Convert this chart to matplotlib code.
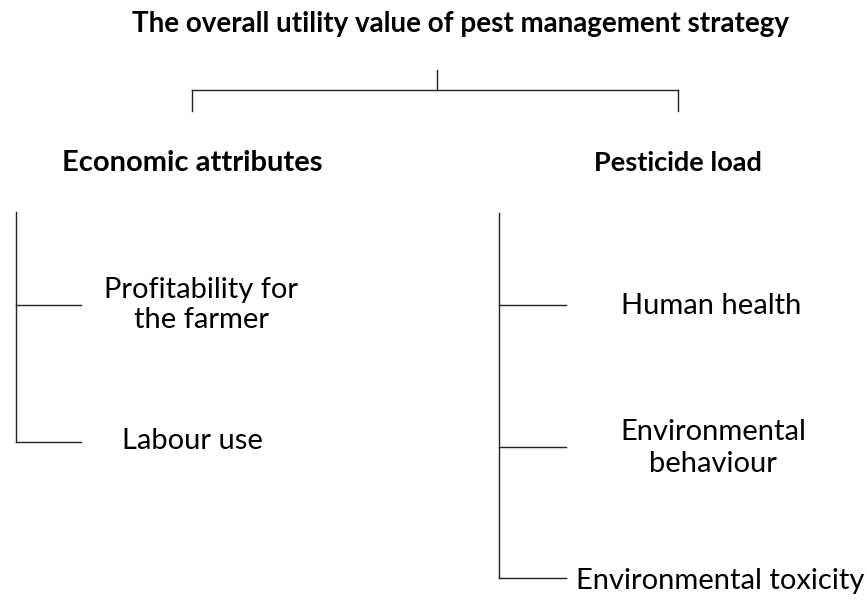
import matplotlib.pyplot as plt

plt.rcParams['font.family'] = ['Lato', 'DejaVu Sans']

# labels of the tree
title = 'The overall utility value of pest management strategy'
groups = ['Economic attributes', 'Pesticide load']
econ_items = ['Profitability for\nthe farmer', 'Labour use']
pest_items = ['Human health', 'Environmental\nbehaviour', 'Environmental toxicity']

# layout in pixel coordinates (y down)
group_x = [192, 678]
econ_y = [305, 442]
pest_y = [305, 447, 578]
econ_text_x = [201, 192]
econ_text_y = [305, 441]
pest_text_x = [711, 713, 720]
pest_text_y = [306, 448, 581]

fig = plt.figure(figsize=(8.67, 6.04), dpi=100)
ax = fig.add_axes([0, 0, 1, 1])
ax.set_xlim(0, 867)
ax.set_ylim(604, 0)
ax.axis('off')

lw = 1.0
col = '#222222'

# top level
ax.text(461, 24, title, ha='center', va='center', fontsize=20, fontweight='bold')
ax.plot([437, 437], [70, 90], color=col, lw=lw)
ax.plot([group_x[0], group_x[1]], [90, 90], color=col, lw=lw)
for gx in group_x:
    ax.plot([gx, gx], [90, 111], color=col, lw=lw)

# group headers
ax.text(group_x[0], 163, groups[0], ha='center', va='center', fontsize=21, fontweight='bold')
ax.text(group_x[1], 163, groups[1], ha='center', va='center', fontsize=19.5, fontweight='bold')

# economic branch
ax.plot([16, 16], [212, econ_y[-1]], color=col, lw=lw)
for y, tx, ty, lab in zip(econ_y, econ_text_x, econ_text_y, econ_items):
    ax.plot([16, 81], [y, y], color=col, lw=lw)
    ax.text(tx, ty, lab, ha='center', va='center', fontsize=21, linespacing=1.2)

# pesticide branch
ax.plot([499, 499], [213, pest_y[-1]], color=col, lw=lw)
for y, tx, ty, lab in zip(pest_y, pest_text_x, pest_text_y, pest_items):
    ax.plot([499, 566], [y, y], color=col, lw=lw)
    ax.text(tx, ty, lab, ha='center', va='center', fontsize=21, linespacing=1.25)

fig.savefig('out.png', dpi=100)
